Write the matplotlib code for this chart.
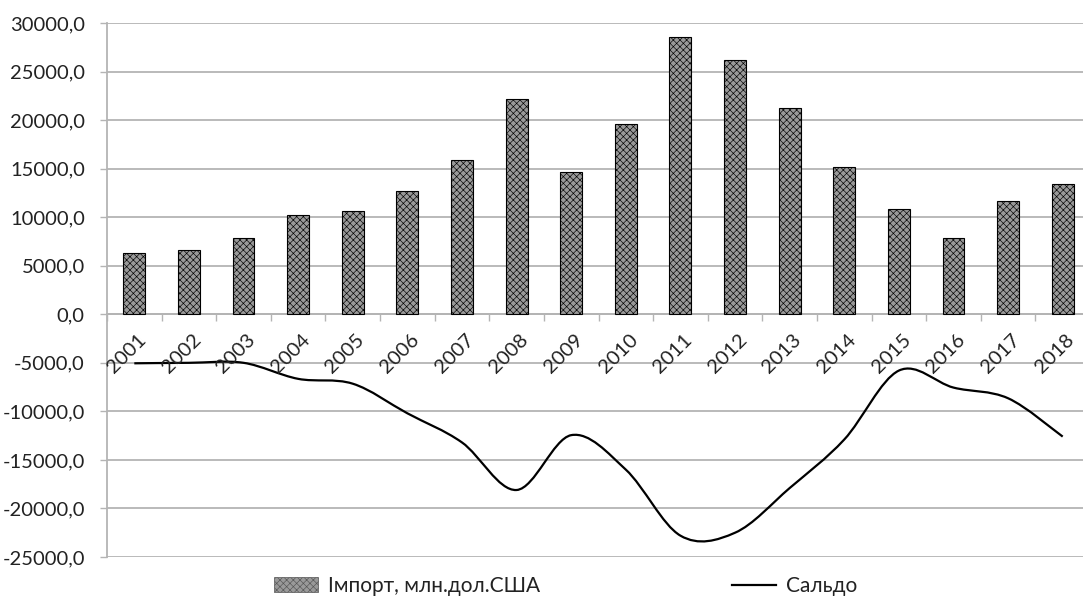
import numpy as np
import matplotlib
matplotlib.use('Agg')
import matplotlib.pyplot as plt
from matplotlib.path import Path
from matplotlib.patches import PathPatch
from matplotlib.lines import Line2D
from matplotlib.patches import Patch
import matplotlib.transforms as mtransforms

# дані
years = ['2001', '2002', '2003', '2004', '2005', '2006', '2007', '2008', '2009',
         '2010', '2011', '2012', '2013', '2014', '2015', '2016', '2017', '2018']
imports = [6350, 6650, 7890, 10220, 10670, 12680, 15920, 22190, 14680,
           19620, 28600, 26230, 21230, 15120, 10870, 7860, 11660, 13410]
saldo = [-5050, -5000, -5000, -6650, -7150, -10200, -13200, -18100, -12450,
         -16000, -22800, -22500, -17900, -12900, -5800, -7550, -8650, -12600]
yticks = [30000, 25000, 20000, 15000, 10000, 5000, 0, -5000, -10000, -15000, -20000, -25000]

plt.rcParams['font.family'] = ['Lato', 'DejaVu Sans']
plt.rcParams['hatch.linewidth'] = 0.45

fig = plt.figure(figsize=(10.83, 5.97), dpi=100)
ax = fig.add_axes([107 / 1083, 1 - 557 / 597, (1090 - 107) / 1083, (557 - 23) / 597])

x = np.arange(len(years))
grid_c = '#b4b4b4'
bar_c = '#999999'

ax.bar(x, imports, width=0.4, color=bar_c, edgecolor='black', linewidth=0.8,
       hatch='xxxxx', zorder=3)

# згладжена лінія (як у Excel)
pts = np.column_stack([x, saldo]).astype(float)
verts = [pts[0]]
codes = [Path.MOVETO]
for i in range(len(pts) - 1):
    p0 = pts[i - 1] if i > 0 else pts[i]
    p1 = pts[i]
    p2 = pts[i + 1]
    p3 = pts[i + 2] if i + 2 < len(pts) else pts[i + 1]
    verts += [p1 + (p2 - p0) / 6, p2 - (p3 - p1) / 6, p2]
    codes += [Path.CURVE4] * 3
ax.add_patch(PathPatch(Path(verts, codes), fill=False, edgecolor='black', linewidth=1.6, zorder=4))

ax.set_xlim(-0.5, len(years) - 0.5)
ax.set_ylim(-25000, 30000)
ax.set_yticks(yticks)
ax.set_yticklabels([('%d,0' % v) for v in yticks])
ax.yaxis.grid(True, color=grid_c, linewidth=1.3, zorder=0)
ax.set_axisbelow(True)
ax.tick_params(axis='y', length=5, color=grid_c, width=1, pad=11, labelsize=14.5, labelcolor='#222222')

for s in ['top', 'right']:
    ax.spines[s].set_visible(False)
ax.spines['left'].set_color(grid_c)
ax.spines['left'].set_linewidth(1.3)
ax.spines['bottom'].set_position(('data', 0))
ax.spines['bottom'].set_color(grid_c)
ax.spines['bottom'].set_linewidth(1.3)

ax.set_xticks(np.arange(len(years) + 1) - 0.5)
ax.set_xticklabels([])
ax.tick_params(axis='x', length=5, color=grid_c, width=1)

trans = mtransforms.offset_copy(ax.transData, fig=fig, x=3, y=-17, units='dots')
for i, lab in enumerate(years):
    ax.text(i, 0, lab, transform=trans, rotation=45, ha='right', va='top',
            rotation_mode='anchor', fontsize=14.5, color='#222222', zorder=5)

handles = [Patch(facecolor=bar_c, edgecolor='#555555', hatch='xxxxx', linewidth=0.5),
           Line2D([0], [0], color='black', linewidth=1.6)]
fig.legend(handles, ['Імпорт, млн.дол.США', 'Сальдо'], loc='center', bbox_to_anchor=(566 / 1083, 1 - 586 / 597),
           ncol=2, frameon=False, fontsize=15, handlelength=2.1, handleheight=0.7,
           handletextpad=0.5, columnspacing=9.2, labelcolor='#222222')

fig.savefig('out.png', dpi=100)
